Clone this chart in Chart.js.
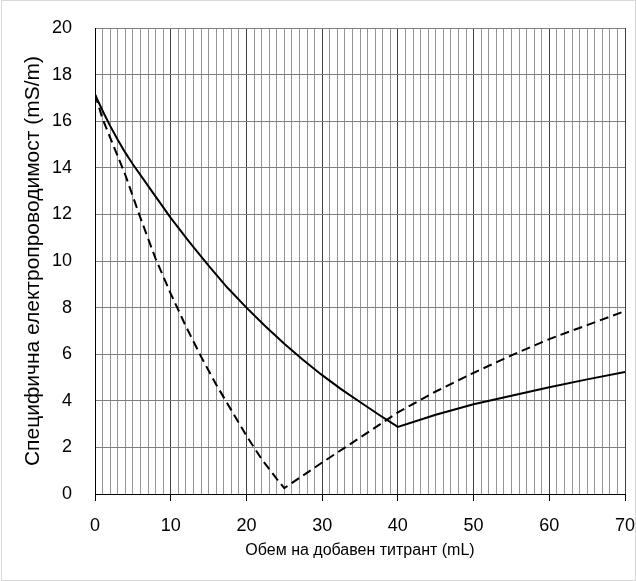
<!DOCTYPE html>
<html>
<head>
<meta charset="utf-8">
<script src="https://cdn.jsdelivr.net/npm/chart.js@4.4.0/dist/chart.umd.min.js"></script>
<style>
  html, body { margin: 0; padding: 0; background: #fff; }
  #wrap { width: 636px; height: 581px; position: relative; }
</style>
</head>
<body>
<div id="wrap"><canvas id="c" width="636" height="581"></canvas></div>
<script>
// Solid curve
const solidX = [0, 1, 2, 3, 4, 5, 7.5, 10, 12.5, 15, 17.5, 20, 22.5, 25, 27.5, 30, 32.5, 35, 37.5, 40, 45, 50, 55, 60, 65, 70];
const solidY = [17.15, 16.45, 15.8, 15.2, 14.65, 14.15, 13.0, 11.85, 10.8, 9.8, 8.85, 8.0, 7.2, 6.45, 5.75, 5.1, 4.5, 3.95, 3.4, 2.88, 3.4, 3.85, 4.22, 4.58, 4.92, 5.24];
// Dashed curve
const dashedX = [0, 1, 2, 4, 6, 8, 10, 12, 14, 16, 18, 20, 22, 24, 25, 30, 35, 40, 45, 50, 55, 60, 65, 70];
const dashedY = [17.15, 16.1, 15.3, 13.7, 11.85, 10.1, 8.6, 7.2, 5.9, 4.7, 3.6, 2.5, 1.5, 0.65, 0.25, 1.35, 2.42, 3.5, 4.4, 5.2, 5.95, 6.65, 7.25, 7.85];

const xTitle = 'Обем на добавен титрант (mL)';
const yTitle = 'Специфична електропроводимост (mS/m)';

const FONT = "'Liberation Sans', Arial, sans-serif";

const toPts = (xs, ys) => xs.map((x, i) => ({ x: x, y: ys[i] }));

const frame = {
  id: 'frame',
  afterDraw(chart) {
    const ctx = chart.ctx;
    ctx.save();
    ctx.strokeStyle = '#d9d9d9';
    ctx.lineWidth = 1;
    ctx.strokeRect(1.5, 0.5, 634, 580);
    ctx.restore();
  }
};

new Chart(document.getElementById('c'), {
  type: 'line',
  data: {
    datasets: [
      {
        data: toPts(solidX, solidY),
        borderColor: '#000',
        borderWidth: 2,
        pointRadius: 0,
        tension: 0,
        fill: false
      },
      {
        data: toPts(dashedX, dashedY),
        borderColor: '#000',
        borderWidth: 2,
        borderDash: [9, 5],
        pointRadius: 0,
        tension: 0,
        fill: false
      }
    ]
  },
  plugins: [frame],
  options: {
    responsive: false,
    animation: false,
    layout: { padding: { left: 0, right: 11, top: 28, bottom: 0 } },
    plugins: { legend: { display: false }, tooltip: { enabled: false } },
    scales: {
      x: {
        type: 'linear',
        min: 0,
        max: 70,
        afterFit(s) { s.height = 87; s.paddingLeft = 0; s.paddingRight = 0; },
        ticks: {
          stepSize: 1,
          autoSkip: false,
          maxRotation: 0,
          padding: 14,
          color: '#000',
          font: { family: FONT, size: 18 },
          callback: v => (v % 10 === 0 ? String(v) : '')
        },
        grid: {
          color: c => (c.tick && c.tick.value % 10 === 0 ? '#404040' : '#959595'),
          lineWidth: 1,
          tickLength: 7,
          tickColor: c => (c.tick && c.tick.value % 10 === 0 ? '#000' : 'rgba(0,0,0,0)')
        },
        border: { color: '#000', width: 1 },
        title: {
          display: true,
          text: xTitle,
          color: '#000',
          font: { family: FONT, size: 16 },
          padding: { top: 0, bottom: 21 }
        }
      },
      y: {
        min: 0,
        max: 20,
        afterFit(s) { s.width = 95; s.paddingTop = 0; s.paddingBottom = 0; },
        ticks: {
          stepSize: 2,
          padding: 23,
          color: '#000',
          font: { family: FONT, size: 18 }
        },
        grid: {
          color: '#7f7f7f',
          lineWidth: 1,
          drawTicks: false
        },
        border: { color: '#000', width: 1 },
        title: {
          display: true,
          text: yTitle,
          color: '#000',
          font: { family: FONT, size: 21 },
          padding: { top: 21, bottom: 0 }
        }
      }
    }
  }
});
</script>
</body>
</html>
